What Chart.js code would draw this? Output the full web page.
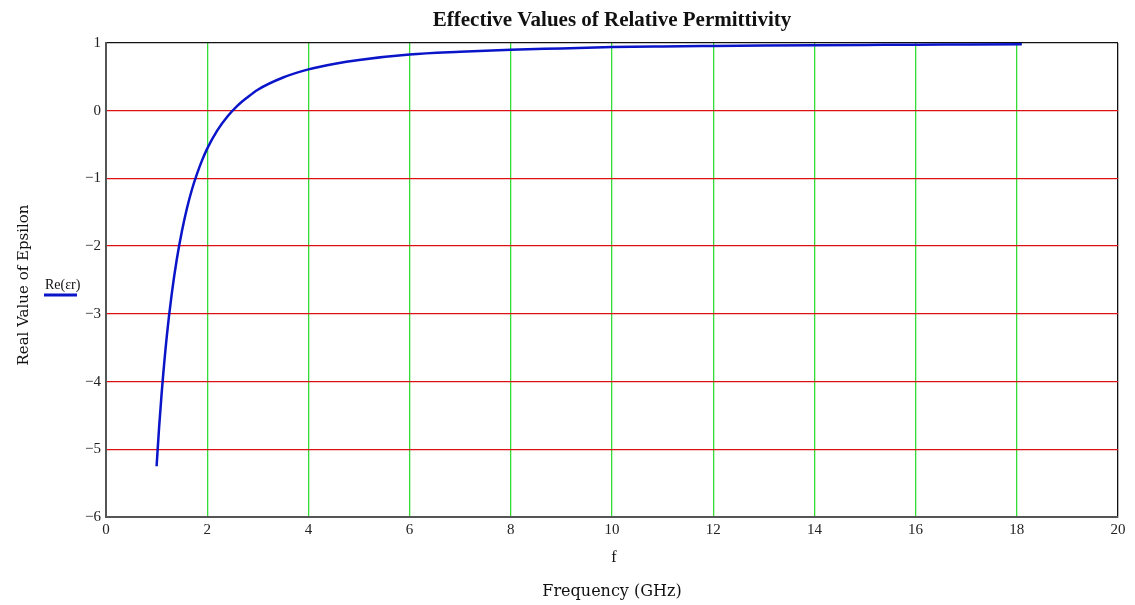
<!DOCTYPE html>
<html>
<head>
<meta charset="utf-8">
<script src="https://cdn.jsdelivr.net/npm/chart.js@4.4.0/dist/chart.umd.min.js"></script>
<style>
html,body{margin:0;padding:0;background:#fff;}
#wrap{width:1135px;height:605px;position:relative;}
</style>
</head>
<body>
<div id="wrap"><canvas id="c" width="1135" height="605"></canvas></div>
<script>
const chartTitle = "Effective Values of Relative Permittivity";
const xAxisVar = "f";
const xAxisTitle = "Frequency (GHz)";
const yAxisTitle = "Real Value of Epsilon";
const seriesLabel = "Re(εr)";

const freq = [1.0, 1.05, 1.1, 1.2, 1.3, 1.4, 1.5, 1.6, 1.7, 1.8, 1.9, 2.0, 2.2, 2.4, 2.6, 2.8, 3.0, 3.5, 4.0, 4.5, 5.0, 6.0, 7.0, 8.0, 9.0, 10.0, 11.0, 12.0, 13.0, 14.0, 15.0, 16.0, 17.0, 18.1];
const reEps = [-5.25, -4.67, -4.17, -3.34, -2.70, -2.19, -1.78, -1.44, -1.16, -0.93, -0.73, -0.56, -0.29, -0.085, 0.075, 0.20, 0.31, 0.49, 0.61, 0.69, 0.75, 0.83, 0.87, 0.90, 0.92, 0.94, 0.95, 0.957, 0.963, 0.968, 0.972, 0.976, 0.978, 0.981];

const xTicks = [0, 2, 4, 6, 8, 10, 12, 14, 16, 18, 20];
const yTicks = [1, 0, -1, -2, -3, -4, -5, -6];

const points = freq.map((f, i) => ({x: f, y: reEps[i]}));
const serif = "'Liberation Serif', 'Times New Roman', serif";
const wideSerif = "'DejaVu Serif', serif";

const textPlugin = {
  id: 'texts',
  afterDraw(chart) {
    const ctx = chart.ctx;
    const a = chart.chartArea;
    const cx = (a.left + a.right) / 2;
    ctx.save();
    ctx.fillStyle = '#111';
    ctx.textAlign = 'center';
    ctx.textBaseline = 'alphabetic';
    ctx.font = "bold 21px " + serif;
    ctx.fillText(chartTitle, cx + 96 - 96, 26);
    ctx.font = "16px " + serif;
    ctx.fillText(xAxisVar, cx + 2, 562);
    ctx.font = "16px " + wideSerif;
    ctx.fillText(xAxisTitle, cx, 596);
    ctx.save();
    ctx.translate(28, 285);
    ctx.rotate(-Math.PI / 2);
    ctx.font = "15px " + wideSerif;
    ctx.fillText(yAxisTitle, 0, 0);
    ctx.restore();
    // legend
    ctx.font = "14px " + serif;
    ctx.textAlign = 'left';
    ctx.fillText(seriesLabel, 45, 289);
    ctx.strokeStyle = '#0a14c8';
    ctx.lineWidth = 3;
    ctx.beginPath();
    ctx.moveTo(44, 295);
    ctx.lineTo(77, 295);
    ctx.stroke();
    ctx.restore();
  }
};

new Chart(document.getElementById('c'), {
  type: 'scatter',
  data: {
    datasets: [{
      label: seriesLabel,
      data: points,
      showLine: true,
      borderColor: '#0a14c8',
      borderWidth: 2.5,
      pointRadius: 0,
      tension: 0.4,
      cubicInterpolationMode: 'monotone',
      fill: false
    }]
  },
  options: {
    responsive: false,
    animation: false,
    layout: {padding: {left: 0, right: 17, top: 43, bottom: 0}},
    plugins: {legend: {display: false}, title: {display: false}, tooltip: {enabled: false}},
    scales: {
      x: {
        type: 'linear', min: 0, max: 20,
        afterBuildTicks: s => { s.ticks = xTicks.map(v => ({value: v})); },
        afterFit: s => { s.height = 88; },
        ticks: {font: {family: serif, size: 15}, color: '#222', padding: 4, maxRotation: 0},
        grid: {
          drawTicks: false,
          lineWidth: 1.3,
          color: c => c.tick.value === 0 ? '#555' : (c.tick.value === 20 ? '#111' : '#33dd33')
        },
        border: {display: true, color: '#555', width: 2}
      },
      y: {
        type: 'linear', min: -6, max: 1,
        afterBuildTicks: s => { s.ticks = yTicks.map(v => ({value: v})); },
        afterFit: s => { s.width = 106; },
        ticks: {font: {family: serif, size: 15}, color: '#222', padding: 5,
          callback: v => v < 0 ? '\u2212' + Math.abs(v) : String(v)},
        grid: {
          drawTicks: false,
          lineWidth: 1.3,
          color: c => c.tick.value === 1 ? '#111' : (c.tick.value === -6 ? '#555' : '#dd1111')
        },
        border: {display: true, color: '#555', width: 2}
      }
    }
  },
  plugins: [textPlugin]
});
</script>
</body>
</html>
